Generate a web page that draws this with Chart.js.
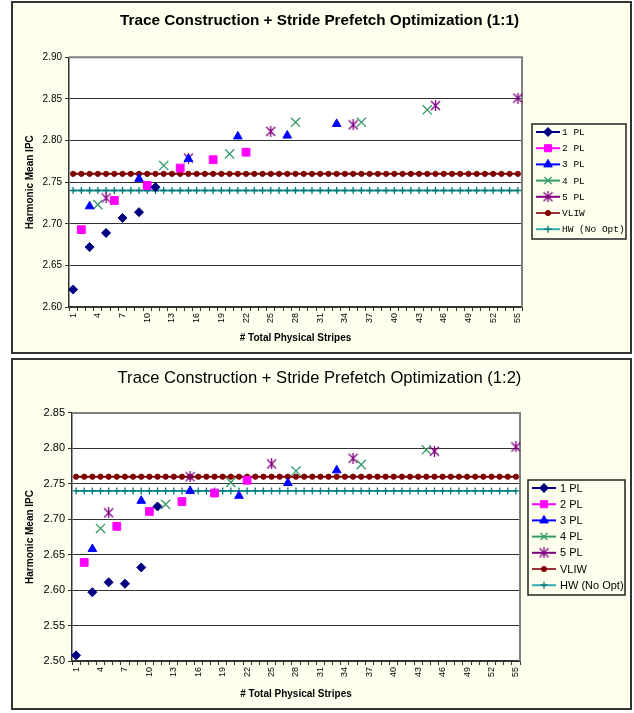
<!DOCTYPE html>
<html lang="en">
<head>
<meta charset="UTF-8">
<title>Trace Construction + Stride Prefetch Optimization</title>
<script src="https://cdn.jsdelivr.net/npm/chart.js"></script>
<style>
  body { margin: 0; background: #fff; width: 634px; height: 713px; position: relative; overflow: hidden; }
  .caixa { position: absolute; left: 11px; width: 617px; border: 2px solid #333; background: #ffffee; }
  #caixa1 { top: 1px; height: 349px; }
  #caixa2 { top: 358px; height: 348px; }
  canvas { display: block; }
</style>
</head>
<body>
<div class="caixa" id="caixa1"><canvas id="grafico1" width="617" height="349"></canvas></div>
<div class="caixa" id="caixa2"><canvas id="grafico2" width="617" height="348"></canvas></div>
<script>
// eixo x: # total physical stripes
const stripes = ['1','2','3','4','5','6','7','8','9','10','11','12','13','14','15','16','17','18','19','20',
  '21','22','23','24','25','26','27','28','29','30','31','32','33','34','35','36','37','38','39','40',
  '41','42','43','44','45','46','47','48','49','50','51','52','53','54','55'];
const yTicks1 = [2.60, 2.65, 2.70, 2.75, 2.80, 2.85, 2.90];
const yTicks2 = [2.50, 2.55, 2.60, 2.65, 2.70, 2.75, 2.80, 2.85];
const seriesNames = ['1 PL', '2 PL', '3 PL', '4 PL', '5 PL', 'VLIW', 'HW (No Opt)'];

// stripes where each PL config was measured
const pl1Stripes = [1, 3, 5, 7, 9, 11];
const pl2Stripes = [2, 6, 10, 14, 18, 22];
const pl3Stripes = [3, 9, 15, 21, 27, 33];
const pl4Stripes = [4, 12, 20, 28, 36, 44];
const pl5Stripes = [5, 15, 25, 35, 45, 55];

// (1:1)
const pl1_11 = [2.621, 2.672, 2.689, 2.707, 2.714, 2.744];
const pl2_11 = [2.693, 2.728, 2.746, 2.767, 2.777, 2.786];
const pl3_11 = [2.721, 2.754, 2.778, 2.805, 2.806, 2.820];
const pl4_11 = [2.723, 2.770, 2.784, 2.822, 2.822, 2.837];
const pl5_11 = [2.731, 2.779, 2.811, 2.819, 2.842, 2.851];
const vliw_11 = 2.76;
const hw_11 = 2.74;

// (1:2)
const pl1_12 = [2.508, 2.597, 2.611, 2.609, 2.632, 2.718];
const pl2_12 = [2.639, 2.690, 2.711, 2.725, 2.737, 2.755];
const pl3_12 = [2.658, 2.726, 2.740, 2.733, 2.751, 2.769];
const pl4_12 = [2.687, 2.721, 2.752, 2.768, 2.777, 2.798];
const pl5_12 = [2.709, 2.760, 2.778, 2.786, 2.796, 2.802];
const vliw_12 = 2.76;
const hw_12 = 2.74;

// coloca os valores nas posicoes das categorias (null no resto)
function espalhar(pos, vals) {
  const arr = stripes.map(() => null);
  pos.forEach((p, i) => { arr[stripes.indexOf(String(p))] = vals[i]; });
  return arr;
}
function constante(v) {
  return stripes.map(() => v);
}

// asterisco estilo excel (x + barra vertical)
function estrela(cor) {
  const c = document.createElement('canvas');
  c.width = 11; c.height = 11;
  const g = c.getContext('2d');
  g.strokeStyle = cor; g.lineWidth = 1.3;
  g.beginPath();
  g.moveTo(1, 1); g.lineTo(10, 10);
  g.moveTo(10, 1); g.lineTo(1, 10);
  g.moveTo(5.5, 0); g.lineTo(5.5, 11);
  g.stroke();
  return c;
}

const estilos = [
  { cor: '#000080', linha: '#000080', ponto: 'rectRot', raio: 4.5 },
  { cor: '#ff00ff', linha: '#ff00ff', ponto: 'rect', raio: 5.5 },
  { cor: '#0000ff', linha: '#0000ff', ponto: 'triangle', raio: 5 },
  { cor: '#339966', linha: '#339966', ponto: 'crossRot', raio: 6.5 },
  { cor: '#800080', linha: '#800080', ponto: estrela('#800080'), raio: 5.5 },
  { cor: '#800000', linha: '#993333', ponto: 'circle', raio: 2.6 },
  { cor: '#007777', linha: '#33aaaa', ponto: 'cross', raio: 3.5 }
];

function montarDatasets(listas) {
  return listas.map((dados, i) => {
    const e = estilos[i];
    const linha = i >= 5;
    return {
      label: seriesNames[i],
      data: dados,
      showLine: linha,
      borderColor: linha ? (i === 5 ? '#800000' : '#33a3a3') : e.cor,
      borderWidth: linha ? 2 : 0,
      backgroundColor: e.cor,
      pointStyle: e.ponto,
      pointRadius: e.raio,
      pointBorderColor: e.cor,
      pointBackgroundColor: e.cor,
      pointBorderWidth: (i === 3 || i === 6) ? 1.3 : 1,
      spanGaps: false,
      order: linha ? 10 : i
    };
  });
}

const fundoArea = {
  id: 'fundoArea',
  beforeDraw(chart) {
    const a = chart.chartArea, ctx = chart.ctx;
    ctx.save();
    ctx.fillStyle = '#ffffff';
    ctx.fillRect(a.left, a.top, a.right - a.left, a.bottom - a.top);
    ctx.restore();
  },
  beforeDatasetsDraw(chart) {
    const a = chart.chartArea, ctx = chart.ctx;
    ctx.save();
    ctx.strokeStyle = '#808080';
    ctx.lineWidth = 2;
    ctx.beginPath();
    ctx.moveTo(a.left, a.top);
    ctx.lineTo(a.right, a.top);
    ctx.lineTo(a.right, a.bottom);
    ctx.stroke();
    ctx.restore();
  }
};

const legendaCaixa = {
  id: 'legendaCaixa',
  afterDraw(chart, args, o) {
    const ctx = chart.ctx;
    ctx.save();
    ctx.strokeStyle = '#222';
    ctx.lineWidth = 1.5;
    ctx.strokeRect(o.x, o.y, o.w, o.h);
    ctx.font = o.fonte;
    ctx.textBaseline = 'middle';
    ctx.textAlign = 'left';
    chart.data.datasets.forEach((ds, i) => {
      const e = estilos[i];
      const yy = o.y + o.primeira + i * o.passo;
      ctx.strokeStyle = e.linha;
      ctx.lineWidth = 2;
      ctx.beginPath();
      ctx.moveTo(o.x + 4, yy);
      ctx.lineTo(o.x + 4 + o.linha, yy);
      ctx.stroke();
      ctx.fillStyle = e.cor;
      ctx.strokeStyle = e.cor;
      ctx.lineWidth = ds.pointBorderWidth;
      Chart.helpers.drawPoint(ctx, { pointStyle: e.ponto, radius: Math.min(e.raio, 5), rotation: 0, borderWidth: ds.pointBorderWidth },
        o.x + 4 + o.linha / 2, yy);
      ctx.fillStyle = '#000';
      ctx.fillText(ds.label, o.x + o.linha + o.texto, yy + 0.5);
    });
    ctx.restore();
  }
};

function criarGrafico(id, titulo, fonteTitulo, ticks, datasets, m) {
  return new Chart(document.getElementById(id), {
    type: 'line',
    data: { labels: stripes, datasets: datasets },
    options: {
      responsive: false,
      animation: false,
      events: [],
      layout: { padding: { left: 0, right: 4, top: 0, bottom: 8 } },
      plugins: {
        legend: { display: false },
        tooltip: { enabled: false },
        title: {
          display: true,
          text: titulo,
          color: '#000',
          font: fonteTitulo,
          padding: { top: m.tituloCima, bottom: m.tituloBaixo }
        },
        legendaCaixa: m.legenda
      },
      scales: {
        x: {
          offset: true,
          grid: { display: true, drawOnChartArea: false, offset: true, tickLength: 4, color: '#333', lineWidth: 1 },
          border: { display: true, color: '#333', width: 1.5 },
          ticks: {
            autoSkip: false, maxRotation: 90, minRotation: 90, padding: 2,
            color: '#000', font: { family: 'Liberation Sans', size: 9 },
            callback: (v, i) => (i % 3 === 0 ? stripes[i] : '')
          },
          title: {
            display: true, text: '# Total Physical Stripes', color: '#000',
            font: { family: 'Liberation Sans', size: 10, weight: 'bold' },
            padding: { top: 3, bottom: 0 }
          },
          afterFit: (s) => { s.height = m.xAltura; }
        },
        y: {
          min: ticks[0],
          max: ticks[ticks.length - 1],
          afterBuildTicks: (s) => { s.ticks = ticks.map(v => ({ value: v })); },
          grid: { color: '#333', lineWidth: 1, tickLength: 4 },
          border: { display: true, color: '#333', width: 1.5 },
          ticks: {
            color: '#000', padding: 3,
            font: { family: 'Liberation Sans', size: m.yFonte },
            callback: (v) => Number(v).toFixed(2)
          },
          title: {
            display: true, text: 'Harmonic Mean IPC', color: '#000',
            font: { family: 'Liberation Sans', size: 10, weight: 'bold' },
            padding: { top: 11, bottom: 0 }
          },
          afterFit: (s) => { s.width = m.yLargura; }
        },
        // eixo vazio a direita so para reservar o espaco da legenda
        espacoLegenda: {
          type: 'linear',
          position: 'right',
          display: true,
          grid: { display: false, drawTicks: false },
          border: { display: false },
          ticks: { display: false },
          afterFit: (s) => { s.width = m.direita; }
        }
      }
    },
    plugins: [fundoArea, legendaCaixa]
  });
}

criarGrafico('grafico1', 'Trace Construction + Stride Prefetch Optimization (1:1)',
  { family: 'Liberation Sans', size: 15.3, weight: 'bold' }, yTicks1,
  montarDatasets([
    espalhar(pl1Stripes, pl1_11), espalhar(pl2Stripes, pl2_11), espalhar(pl3Stripes, pl3_11),
    espalhar(pl4Stripes, pl4_11), espalhar(pl5Stripes, pl5_11), constante(vliw_11), constante(hw_11)
  ]),
  { direita: 104, tituloCima: 9, tituloBaixo: 27, xAltura: 37, yLargura: 56, yFonte: 10,
    legenda: { x: 519, y: 121, w: 94, h: 115, primeira: 8, passo: 16.2, linha: 24, texto: 6,
      fonte: '9.5px "Liberation Mono"' } });

criarGrafico('grafico2', 'Trace Construction + Stride Prefetch Optimization (1:2)',
  { family: 'Liberation Sans', size: 16.6, weight: 'normal' }, yTicks2,
  montarDatasets([
    espalhar(pl1Stripes, pl1_12), espalhar(pl2Stripes, pl2_12), espalhar(pl3Stripes, pl3_12),
    espalhar(pl4Stripes, pl4_12), espalhar(pl5Stripes, pl5_12), constante(vliw_12), constante(hw_12)
  ]),
  { direita: 106, tituloCima: 8, tituloBaixo: 25, xAltura: 39, yLargura: 59, yFonte: 11,
    legenda: { x: 515, y: 120, w: 97, h: 115, primeira: 8, passo: 16.2, linha: 24, texto: 8,
      fonte: '11px "Liberation Sans"' } });
</script>
</body>
</html>
